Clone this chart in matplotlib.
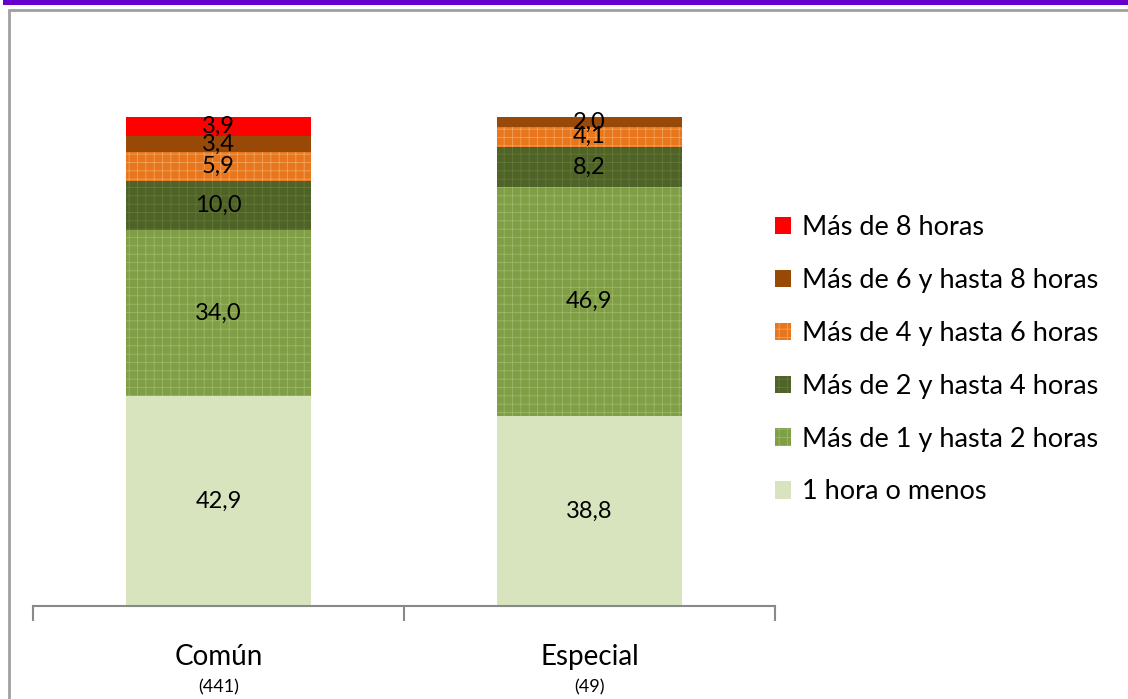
import matplotlib.pyplot as plt
from matplotlib.patches import Patch, Rectangle
import numpy as np

plt.rcParams['font.family'] = ['Lato', 'DejaVu Sans']
plt.rcParams['hatch.linewidth'] = 0.6

categorias = ['Común', 'Especial']
casos = ['(441)', '(49)']
series = ['1 hora o menos', 'Más de 1 y hasta 2 horas', 'Más de 2 y hasta 4 horas',
          'Más de 4 y hasta 6 horas', 'Más de 6 y hasta 8 horas', 'Más de 8 horas']
hasta_1 = [42.9, 38.8]
de_1_a_2 = [34.0, 46.9]
de_2_a_4 = [10.0, 8.2]
de_4_a_6 = [5.9, 4.1]
de_6_a_8 = [3.4, 2.0]
mas_de_8 = [3.9, 0.0]

colores = ['#D7E4BD', '#7F9E45', '#4F6228', '#E8761C', '#984807', '#FF0000']
tramas = [None, '++', '++', '++', None, None]
color_trama = [None, '#9DB86A', '#637A35', '#F2A35E', None, None]

valores = [hasta_1, de_1_a_2, de_2_a_4, de_4_a_6, de_6_a_8, mas_de_8]

fig = plt.figure(figsize=(11.28, 6.99), dpi=100)
W, H = 1128, 699
ax = fig.add_axes([33 / W, (H - 606) / H, (775 - 33) / W, (606 - 117) / H])

x = np.arange(len(categorias))
base = np.zeros(len(categorias))
handles = []
for nombre, vals, col, tr, ct in zip(series, valores, colores, tramas, color_trama):
    vals = np.array(vals)
    ax.bar(x, vals, bottom=base, width=0.5, color=col, edgecolor=ct if ct else col,
           hatch=tr, linewidth=0)
    for xi, v, b in zip(x, vals, base):
        if v > 0:
            ax.text(xi, b + v / 2, f'{v:.1f}'.replace('.', ','), ha='center', va='center',
                    fontsize=17, color='black')
    handles.append(Patch(facecolor=col, edgecolor=ct if ct else col, hatch=tr, linewidth=0,
                         label=nombre))
    base = base + vals

ax.set_xlim(-0.5, 1.5)
ax.set_ylim(0, 100)
ax.set_yticks([])
for s in ['top', 'right', 'left']:
    ax.spines[s].set_visible(False)
ax.spines['bottom'].set_color('#898989')
ax.spines['bottom'].set_linewidth(1.5)
ax.set_xticks([-0.5, 0.5, 1.5])
ax.set_xticklabels([])
ax.tick_params(axis='x', direction='out', length=11, width=1.5, color='#898989')

for xi, cat, n in zip(x, categorias, casos):
    ax.text(xi, -10.4, cat, ha='center', va='center', fontsize=20)
    ax.text(xi, -16.7, n, ha='center', va='center', fontsize=13)

fig.legend(handles=handles[::-1], loc='upper left', bbox_to_anchor=(775 / W, 1 - 215 / H),
           frameon=False, fontsize=19.5, handlelength=0.6, handleheight=0.6,
           handletextpad=0.38, labelspacing=1.03, borderpad=0, borderaxespad=0)

# marco gris y franja morada superior
fig.patches.append(Rectangle((9 / W, -0.1), 1.2, 1 - 10 / H + 0.1, transform=fig.transFigure,
                             fill=False, edgecolor='#A0A0A0', linewidth=2))
fig.patches.append(Rectangle((3 / W, 1 - 5 / H), 1, 5 / H, transform=fig.transFigure,
                             facecolor='#6600CC', edgecolor='none'))

fig.savefig('out.png', dpi=100)
